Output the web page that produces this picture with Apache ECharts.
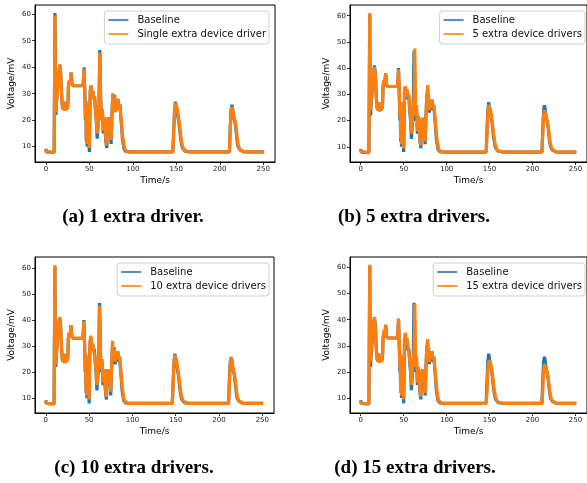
<!DOCTYPE html>
<html><head><meta charset="utf-8">
<script src="https://cdn.jsdelivr.net/npm/echarts@6/dist/echarts.min.js"></script>
<style>html,body{margin:0;padding:0;background:#fff}#c{width:587px;height:483px}</style>
</head><body><div id="c"></div>
<script>
// shared time stamps (s)
const timeS = [
  0, 0.5, 1, 9.5, 10, 10.5, 11, 11.5, 12, 13,
  14, 15, 16, 16.5, 17, 18, 19, 20, 21, 22,
  23, 24, 25, 25.5, 26, 27, 28, 29, 30, 31,
  33, 35, 37, 39, 41, 42, 43, 44, 45, 45.5,
  46, 46.5, 47, 47.5, 48, 49, 50, 50.5, 51, 52,
  53, 54, 55, 56, 57, 58, 59, 60, 61, 62,
  62.5, 63, 64, 65, 66, 67, 68, 69, 70, 71,
  72, 73, 74, 75, 76, 77, 78, 79, 80, 81,
  82, 83, 84, 85, 86, 87, 88, 89, 90, 91,
  92, 94, 96, 100, 146, 147, 148, 149, 150, 151,
  152, 153, 154, 155, 156, 157, 158, 160, 162, 165,
  211, 212, 213, 214, 215, 216, 217, 218, 219, 220,
  221, 222, 223, 225, 228, 251
];
// Baseline voltage (mV)
const baseline = [
  9.2, 8.0, 7.8, 7.8, 8.5, 60.5, 30, 22, 26, 30,
  35, 38, 41, 40.5, 38, 30, 25, 24, 27, 23.5,
  26, 24, 25, 27, 33, 35, 33.5, 38, 34, 33,
  33.5, 33, 33.5, 33, 33.5, 33, 34, 40, 28, 20,
  27, 12, 24, 10, 26, 18, 8, 20, 31, 33,
  29, 31, 28, 29, 24, 20, 13, 18, 22, 46.5,
  40, 28, 20, 24, 15, 21, 17, 12, 9.5, 20,
  21, 15, 19, 11, 22, 30, 24, 29.5, 23, 27,
  24, 28, 25, 26, 22, 18, 13, 11, 9, 8.5,
  8.2, 8, 8, 8, 8, 16, 24, 27, 26.5, 23,
  21, 19, 16, 13, 11, 9.5, 8.8, 8.3, 8, 8,
  8, 17, 24, 25.8, 24, 21, 20, 18, 15, 12,
  10, 9.3, 8.8, 8.4, 8, 8
];
const extra1 = [
  9.0, 8.0, 7.8, 7.8, 8.5, 59.5, 30, 23, 26, 30,
  35, 38, 41, 40.5, 38, 30, 25, 24, 27, 23.5,
  26, 24, 25, 27, 33, 35, 33.5, 38, 34, 33,
  33.5, 33, 33.5, 33, 33.5, 33, 34, 39.5, 27, 21,
  27, 13, 24, 11, 26, 19, 9.5, 21, 31, 33,
  29, 31, 28, 29, 24, 20, 15, 18, 22, 45.5,
  40, 28, 20, 24, 16, 21, 17, 12.5, 10.5, 20,
  21, 16, 19, 12.5, 22, 30, 24, 29, 23, 27,
  24, 28, 25, 26, 22.5, 19, 15, 12.5, 10, 9,
  8.3, 8, 8, 8, 8, 15, 23.5, 26.5, 26.5, 24.5,
  22.5, 20, 17.5, 14.5, 12, 10.5, 9.3, 8.5, 8, 8,
  8, 16, 23.5, 25, 24.5, 22, 20.5, 19, 16.5, 13.5,
  11, 9.8, 9, 8.5, 8, 8
];
const extra5 = [
  9.0, 8.2, 7.8, 7.8, 8.5, 61, 36, 24, 27, 31,
  36, 38, 40.5, 40, 37, 29, 25, 24, 27, 23.5,
  26, 24, 25.5, 27, 33, 35.5, 34, 38, 34, 33,
  33.5, 33, 33.5, 33, 33.5, 33, 34, 39.5, 30, 22,
  27, 13, 25, 11, 27, 19, 9.5, 21, 32, 33,
  30, 32, 29, 30, 25, 21, 15, 20, 24, 28,
  35, 47.5, 22, 26, 16, 22, 18, 13, 10.5, 20,
  21, 16, 19, 12, 22, 30, 33.5, 28, 24, 27,
  25, 28, 25, 26, 23, 19, 15, 12, 10, 9,
  8.3, 8, 8, 8, 8, 14, 23, 26, 26, 24,
  22, 20, 17, 14.5, 12, 10.5, 9.3, 8.5, 8, 8,
  8, 15, 22, 24, 23.5, 21.5, 20, 18.5, 16, 13,
  11, 9.8, 9, 8.5, 8, 8
];
const extra10 = [
  9.0, 8.0, 7.8, 7.8, 8.5, 61, 30, 23, 26, 30,
  35, 38, 41, 40.5, 38, 30, 25, 24, 27, 23.5,
  26, 24, 25, 27, 33, 35, 33.5, 38, 34, 33,
  33.5, 33, 33.5, 33, 33.5, 33, 34, 39.5, 27, 21,
  27, 13, 25, 11, 26, 19, 9.5, 21, 32, 34,
  30, 31, 29, 29, 25, 21, 15, 19, 23, 45.5,
  40, 29, 21, 25, 16, 21, 18, 13, 10.5, 20,
  21, 16, 19, 12.5, 23, 32, 25, 29, 24, 27,
  25, 28, 25, 26, 23, 19, 15, 12.5, 10, 9,
  8.3, 8, 8, 8, 8, 15, 23.5, 26.5, 26.5, 24.5,
  22.5, 20, 17.5, 14.5, 12, 10.5, 9.3, 8.5, 8, 8,
  8, 16, 23.5, 25.5, 24.5, 22, 20.5, 19, 16.5, 13.5,
  11, 9.8, 9, 8.5, 8, 8
];
const extra15 = [
  9.0, 8.0, 7.8, 7.8, 8.5, 61, 37, 24, 27, 31,
  36, 39, 41, 40.5, 37, 29, 25, 24, 27, 23.5,
  26, 24, 25, 27, 33, 36, 34, 38, 34, 33,
  33.5, 33, 33.5, 33, 33.5, 33, 34, 40.5, 30, 22,
  27, 12, 25, 11, 26, 19, 9.5, 21, 33, 35,
  31, 33, 30, 30, 25, 21, 15, 20, 24, 28,
  35, 46, 22, 26, 16, 22, 18, 13, 10.5, 20,
  21, 16, 19, 12, 22, 30, 32.5, 28, 24, 27,
  25, 28, 25, 26, 23, 19, 15, 12, 10, 9,
  8.3, 8, 8, 8, 8, 12, 20, 23.5, 24.5, 23.5,
  22, 20, 17.5, 14.5, 12, 10.5, 9.3, 8.5, 8, 8,
  8, 13, 20, 23, 23, 21.5, 20, 18.5, 16, 13,
  11, 9.8, 9, 8.5, 8, 8
];
const xTicks = [0, 50, 100, 150, 200, 250];
const yTicks = [10, 20, 30, 40, 50, 60];
const extraNames = ['Single extra device driver', '5 extra device drivers', '10 extra device drivers', '15 extra device drivers'];
const extraData = [extra1, extra5, extra10, extra15];
const captions = ['(a) 1 extra driver.', '(b) 5 extra drivers.', '(c) 10 extra drivers.', '(d) 15 extra drivers.'];

const panels = [
  {grid: {left: 35, top: 5, width: 240, height: 157}, ymin: 4.2, ymax: 63.5, legRight: 318, legTop: 11, cap: [133, 217]},
  {grid: {left: 350, top: 5, width: 240, height: 157}, ymin: 4.2, ymax: 64.1, legRight: 2, legTop: 11, cap: [414, 217]},
  {grid: {left: 35, top: 257, width: 239, height: 156}, ymin: 4.3, ymax: 64.2, legRight: 318, legTop: 263, cap: [134, 468]},
  {grid: {left: 350, top: 257, width: 240, height: 156}, ymin: 4.3, ymax: 64.0, legRight: 2, legTop: 263, cap: [415, 468]}
];

const zip = (vals) => timeS.map((t, i) => [t, vals[i]]);
const BLUE = '#1f77b4', ORANGE = '#ff7f0e';
const font = 'DejaVu Sans';

const option = {
  animation: false,
  backgroundColor: '#fff',
  grid: [], xAxis: [], yAxis: [], series: [], legend: [], graphic: []
};

panels.forEach((p, i) => {
  option.grid.push(Object.assign({show: true, borderColor: '#000', borderWidth: 1, backgroundColor: 'transparent', containLabel: false}, p.grid));
  option.xAxis.push({
    type: 'value', gridIndex: i, min: -12.5, max: 263.5,
    name: 'Time/s', nameLocation: 'middle', nameGap: 14,
    nameTextStyle: {fontSize: 9, color: '#000', fontFamily: font},
    axisLine: {show: true, onZero: false, lineStyle: {color: '#000', width: 1}},
    axisTick: {show: true, customValues: xTicks, length: 3, lineStyle: {color: '#000', width: 0.8}},
    axisLabel: {customValues: xTicks, fontSize: 7, color: '#222', margin: 4, fontFamily: font},
    splitLine: {show: false}
  });
  option.yAxis.push({
    type: 'value', gridIndex: i, min: p.ymin, max: p.ymax,
    name: 'Voltage/mV', nameLocation: 'middle', nameGap: 18.5, nameRotate: 90,
    nameTextStyle: {fontSize: 9, color: '#000', fontFamily: font},
    axisLine: {show: true, onZero: false, lineStyle: {color: '#000', width: 1}},
    axisTick: {show: true, customValues: yTicks, length: 3, lineStyle: {color: '#000', width: 0.8}},
    axisLabel: {customValues: yTicks, fontSize: 7, color: '#222', margin: 4, fontFamily: font},
    splitLine: {show: false}
  });
  option.series.push({
    name: 'Baseline', type: 'line', xAxisIndex: i, yAxisIndex: i,
    data: zip(baseline), showSymbol: false, symbol: 'none',
    lineStyle: {color: BLUE, width: 3.2}, itemStyle: {color: BLUE}, z: 2
  });
  option.series.push({
    name: extraNames[i], type: 'line', xAxisIndex: i, yAxisIndex: i,
    data: zip(extraData[i]), showSymbol: false, symbol: 'none',
    lineStyle: {color: ORANGE, width: 3.2}, itemStyle: {color: ORANGE}, z: 3
  });
  option.legend.push({
    orient: 'vertical', right: p.legRight, top: p.legTop,
    data: ['Baseline', extraNames[i]],
    icon: 'rect', itemWidth: 20, itemHeight: 1.6, itemGap: 2,
    padding: [3, 3, 4, 4],
    backgroundColor: 'rgba(255,255,255,0.85)', borderColor: '#d0d0d0', borderWidth: 1, borderRadius: 3,
    textStyle: {fontSize: 10, color: '#111', fontFamily: font, lineHeight: 12, padding: [0, 0, 0, 4]},
    selectedMode: false
  });
  option.graphic.push({
    type: 'text', x: p.cap[0], y: p.cap[1],
    style: {text: captions[i], font: 'bold 19px "Liberation Serif"', fill: '#000',
      textAlign: 'center', textVerticalAlign: 'middle', align: 'center', verticalAlign: 'middle'}
  });
});

const chart = echarts.init(document.getElementById('c'), null, {renderer: 'canvas', width: 587, height: 483});
chart.setOption(option);
</script>
</body></html>
